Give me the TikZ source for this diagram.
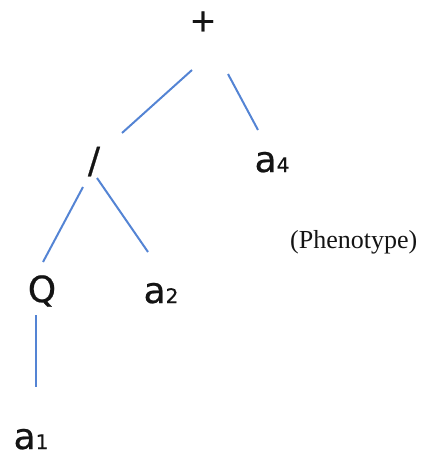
\documentclass[tikz,border=0pt]{standalone}
\usepackage{fontspec}
\usepackage{tikz}
\usepackage{xcolor}
\setmainfont{Liberation Serif}
\newfontfamily\treefont[FakeBold=0.6]{DejaVu Sans}
\definecolor{treeBlue}{RGB}{84,132,212}
\definecolor{treeInk}{RGB}{20,20,20}
\newcommand{\subidx}[1]{{\fontsize{20}{20}\selectfont #1}}

\begin{document}
\begin{tikzpicture}[
      x=1pt, y=-1pt,
      gene/.style={font=\treefont\fontsize{36}{36}\selectfont, text=treeInk, inner sep=0pt, anchor=base},
      tag/.style={font=\fontsize{26}{26}\selectfont, text=treeInk, inner sep=0pt, anchor=base west},
      edge/.style={draw=treeBlue, line width=2pt}
    ]
    \useasboundingbox (0,0) rectangle (421,457);

    % expression tree
    \node[gene, font=\treefont\fontsize{32}{32}\selectfont] (plus) at (203,31.5) {+};
    \node[gene] (div) at (94,173) {/};
    \node[gene] (a4) at (272,172) {a\subidx{4}};
    \node[gene] (q) at (42,302) {Q};
    \node[gene] (a2) at (161,303) {a\subidx{2}};
    \node[gene] (a1) at (31,449) {a\subidx{1}};

    \node[tag] (pheno) at (290,248) {(Phenotype)};

    \draw[edge] ([shift={(-11,38.5)}]plus.base) -- ([shift={(28,-40)}]div.base);
    \draw[edge] ([shift={(25,42.5)}]plus.base) -- ([shift={(-14,-42)}]a4.base);
    \draw[edge] ([shift={(-11,14)}]div.base) -- ([shift={(1,-40)}]q.base);
    \draw[edge] ([shift={(3,5)}]div.base) -- ([shift={(-13,-51)}]a2.base);
    \draw[edge] ([shift={(-6,13)}]q.base) -- ([shift={(5,-62)}]a1.base);
  \end{tikzpicture}
\end{document}
